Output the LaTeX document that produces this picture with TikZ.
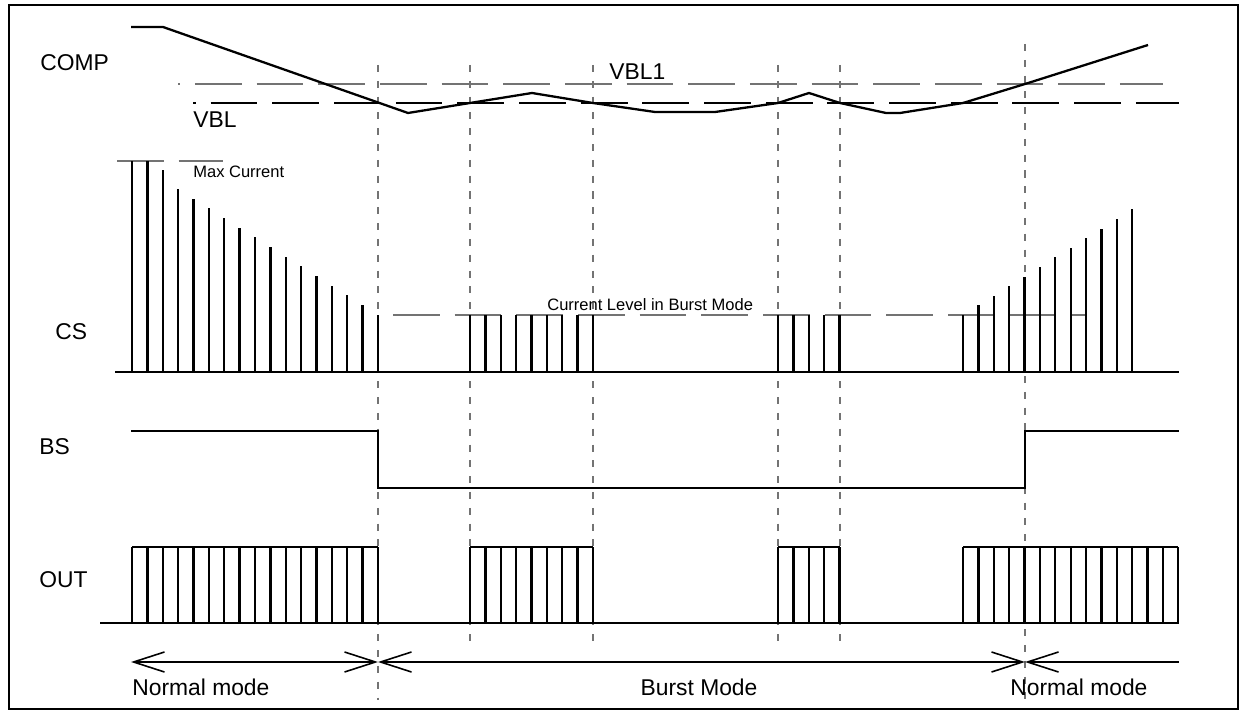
\documentclass[tikz,border=0pt]{standalone}
\usepackage{fontspec}
\setmainfont{Liberation Sans}
\usetikzlibrary{arrows.meta}

\begin{document}
\begin{tikzpicture}[
    x=0.02cm, y=-0.02cm,
    wave/.style={line width=1.3pt, line join=miter},
    guide/.style={black!55, line width=0.6pt, dash pattern=on 4pt off 5pt},
    level/.style={line width=0.6pt, dash pattern=on 26.6pt off 8.5pt},
    lbl/.style={anchor=west, inner sep=0pt, font=\fontsize{13}{15}\selectfont},
    small/.style={anchor=west, inner sep=0pt, font=\fontsize{9.4}{11}\selectfont},
    modearrow/.style={line width=0.9pt},
    barb/.tip={Straight Barb[length=17.6pt, width=11.4pt]}
]
    \useasboundingbox (0,0) rectangle (1246,715);
    \draw[line width=1.1pt] (9,5) rectangle (1238,709);

    % Signal names
    \node[lbl] (comp) at (40,63) {COMP};
    \node[lbl] (cs) at (55,332) {CS};
    \node[lbl] (bs) at (39,447) {BS};
    \node[lbl] (out) at (39,580) {OUT};

    % Mode boundaries
    \foreach \x in {378} \draw[guide] (\x,65) -- (\x,700);
    \draw[guide] (1025,44) -- (1025,700);
    \foreach \x in {470,593,778,840} \draw[guide] (\x,65) -- (\x,645);

    % COMP thresholds
    \draw[level, black!55, dash phase=25.5pt] (178,84) -- (1163,84);
    \draw[level, dash phase=25pt] (193,103) -- (1179,103);
    \node[lbl] (vbl1) at (609,72) {VBL1};
    \node[lbl] (vbl) at (193,120) {VBL};

    % COMP
    \draw[wave] (131,27) -- (163,27) -- (408,113) -- (532,93) -- (593,103)
        -- (655,112) -- (715,112) -- (778,103) -- (809,93) -- (840,103)
        -- (886,113) -- (900,113) -- (963,103) -- (1025,84) -- (1148,45);

    % CS
    \draw[level, black!55] (117,161) -- (223,161);
    \node[small] (maxcur) at (193,172) {Max Current};
    \draw[level, black!55] (393,315) -- (1085,315);
    \node[small] (burstlvl) at (547,305) {Current Level in Burst Mode};
    \draw[wave] (115,372) -- (1179,372);
    \foreach \i/\t in {0/161,1/161,2/170,3/189,4/199,5/208,6/218,7/228,8/237,
        9/247,10/257,11/266,12/276,13/286,14/295,15/305,16/315}
        \draw[wave] ({132+15.375*\i},372) -- ({132+15.375*\i},\t);
    \foreach \k in {0,...,8} \draw[wave] ({470+15.375*\k},372) -- ({470+15.375*\k},315);
    \foreach \k in {0,...,4} \draw[wave] ({778+15.375*\k},372) -- ({778+15.375*\k},315);
    \foreach \k in {0,...,11} \draw[wave] ({963+15.375*\k},372) -- ({963+15.375*\k},{315-9.6*\k});

    % BS
    \draw[wave] (131,431) -- (378,431) -- (378,488) -- (1025,488) -- (1025,431) -- (1179,431);

    % OUT
    \draw[wave] (100,623) -- (1179,623);
    \foreach \s/\n in {132/16,470/8,778/4,963/14} {
        \draw[wave] (\s,547) -- ({\s+15.375*\n},547);
        \foreach \k in {0,...,\n} \draw[wave] ({\s+15.375*\k},623) -- ({\s+15.375*\k},547);
    }

    % Modes
    \coordinate (nl) at (131,662);
    \coordinate (sw1) at (378,662);
    \coordinate (sw2) at (1025,662);
    \coordinate (nr) at (1179,662);
    \draw[modearrow, barb-barb] (nl) -- (sw1);
    \draw[modearrow, barb-barb] (sw1) -- (sw2);
    \draw[modearrow, barb-] (sw2) -- (nr);
    \node[lbl] (normal1) at (132,687) {Normal mode};
    \node[lbl, anchor=center] (burst) at (699,687) {Burst Mode};
    \node[lbl] (normal2) at (1010,687) {Normal mode};
\end{tikzpicture}
\end{document}
